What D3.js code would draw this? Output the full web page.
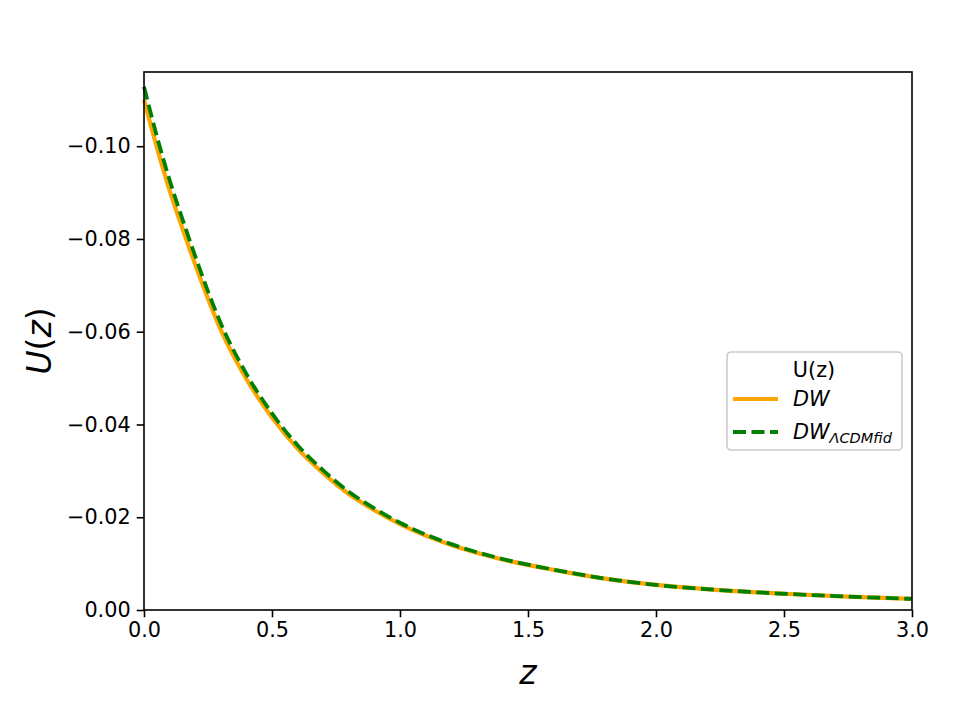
<!DOCTYPE html>
<html>
<head>
<meta charset="utf-8">
<script src="https://cdn.jsdelivr.net/npm/d3@7"></script>
<style>
  body { margin: 0; background: #fff; }
  svg text { font-family: "DejaVu Sans", sans-serif; }
</style>
</head>
<body>
<script>
// data
var zValues = [0, 0.05, 0.1, 0.15, 0.2, 0.3, 0.4, 0.5, 0.6, 0.7, 0.8, 0.9, 1.0,
               1.2, 1.4, 1.6, 1.8, 2.0, 2.25, 2.5, 2.75, 3.0];
var uDW = [-0.1100, -0.0998, -0.0905, -0.0823, -0.0745, -0.0604, -0.0498, -0.0415,
           -0.0348, -0.0295, -0.0250, -0.0215, -0.0185, -0.0140, -0.0109, -0.00865,
           -0.00676, -0.0054, -0.0043, -0.0035, -0.0029, -0.0024];
var uFid = [-0.1128, -0.1022, -0.0927, -0.0843, -0.0763, -0.0618, -0.0509, -0.0424,
            -0.0355, -0.0301, -0.0255, -0.0219, -0.0188, -0.0142, -0.0110, -0.0087,
            -0.0068, -0.0054, -0.0043, -0.0035, -0.0029, -0.0024];
var xTicks = [0, 0.5, 1.0, 1.5, 2.0, 2.5, 3.0];
var yTicks = [0, -0.02, -0.04, -0.06, -0.08, -0.10];

var W = 960, H = 720;
var margin = {top: 72, right: 48, bottom: 110, left: 144};
var width = W - margin.left - margin.right;
var height = H - margin.top - margin.bottom;

var svg = d3.select("body").append("svg")
    .attr("width", W)
    .attr("height", H);

var g = svg.append("g")
    .attr("transform", "translate(" + margin.left + "," + margin.top + ")");

var xScale = d3.scaleLinear().domain([0, 3]).range([0, width]);
var yScale = d3.scaleLinear().domain([0, -0.116]).range([height, 0]);

var fmtMinus = function(s){ return s.replace("-", "\u2212"); };

// axes
var xAxis = d3.axisBottom(xScale)
    .tickValues(xTicks)
    .tickSize(7.3)
    .tickPadding(5)
    .tickFormat(d3.format(".1f"));
var yAxis = d3.axisLeft(yScale)
    .tickValues(yTicks)
    .tickSize(7.3)
    .tickPadding(6)
    .tickFormat(function(d){ return fmtMinus(d3.format(".2f")(d)); });

var xGuide = g.append("g")
    .attr("transform", "translate(0," + height + ")")
    .call(xAxis);
var yGuide = g.append("g").call(yAxis);

[xGuide, yGuide].forEach(function(a){
  a.select(".domain").remove();
  a.selectAll("line").style("stroke", "#000").style("stroke-width", 1.6);
  a.selectAll("text").style("font-size", "20.8px").style("fill", "#000")
    .style("font-family", "DejaVu Sans");
});

// lines
var line = function(vals){
  return d3.line()
      .x(function(d, i){ return xScale(zValues[i]); })
      .y(function(d){ return yScale(d); })
      .curve(d3.curveMonotoneX)(vals);
};

g.append("path")
    .attr("d", line(uDW))
    .style("fill", "none")
    .style("stroke", "#ffa500")
    .style("stroke-width", 4.2);

g.append("path")
    .attr("d", line(uFid))
    .style("fill", "none")
    .style("stroke", "#008000")
    .style("stroke-width", 3.8)
    .style("stroke-dasharray", "13,5.5");

// frame
g.append("rect")
    .attr("width", width)
    .attr("height", height)
    .style("fill", "none")
    .style("stroke", "#000")
    .style("stroke-width", 1.6);

// axis labels
svg.append("text")
    .attr("x", margin.left + width / 2)
    .attr("y", 684)
    .attr("text-anchor", "middle")
    .style("font-size", "33px")
    .style("font-style", "italic")
    .text("z");

var yl = svg.append("text")
    .attr("transform", "translate(51," + (margin.top + height / 2) + ") rotate(-90)")
    .attr("text-anchor", "middle")
    .style("font-size", "33px");
yl.append("tspan").style("font-style", "italic").text("U");
yl.append("tspan").text("(");
yl.append("tspan").style("font-style", "italic").text("z");
yl.append("tspan").text(")");

// legend
var leg = svg.append("g").attr("transform", "translate(727,352)");
leg.append("rect")
    .attr("width", 175)
    .attr("height", 98)
    .attr("rx", 4)
    .style("fill", "#fff")
    .style("fill-opacity", 0.8)
    .style("stroke", "#cccccc")
    .style("stroke-width", 1.6);

leg.append("text")
    .attr("x", 87)
    .attr("y", 25)
    .attr("text-anchor", "middle")
    .style("font-size", "20.8px")
    .text("U(z)");

leg.append("line")
    .attr("x1", 6).attr("x2", 51)
    .attr("y1", 47).attr("y2", 47)
    .style("stroke", "#ffa500")
    .style("stroke-width", 4.2);
leg.append("text")
    .attr("x", 66)
    .attr("y", 54)
    .style("font-size", "20.8px")
    .style("font-style", "italic")
    .text("DW");

leg.append("line")
    .attr("x1", 6).attr("x2", 51)
    .attr("y1", 80).attr("y2", 80)
    .style("stroke", "#008000")
    .style("stroke-width", 3.8)
    .style("stroke-dasharray", "13,5.5");
var t2 = leg.append("text")
    .attr("x", 66)
    .attr("y", 87)
    .style("font-size", "20.8px")
    .style("font-style", "italic");
t2.append("tspan").text("DW");
t2.append("tspan")
    .attr("dy", 4)
    .style("font-size", "14.5px")
    .text("\u039BCDMfid");
</script>
</body>
</html>
